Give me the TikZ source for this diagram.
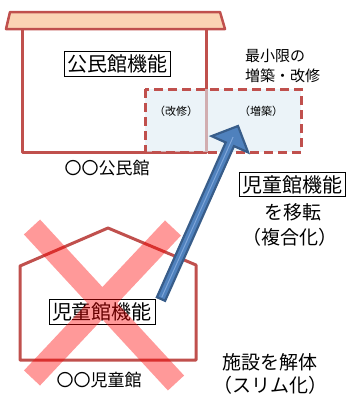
\documentclass[tikz,border=0pt]{standalone}
\usepackage{fontspec}
\newfontfamily\jp{Noto Sans CJK JP}
\usetikzlibrary{calc}
\definecolor{wallred}{HTML}{C0504D}
\definecolor{roofpeach}{HTML}{FBD4B4}
\definecolor{areablue}{HTML}{DDEBF3}
\definecolor{arrowdark}{HTML}{385D8A}
\definecolor{arrowfill}{HTML}{4F81BD}
\definecolor{arrowlight}{HTML}{7FA6DA}
\tikzset{
  wall/.style={draw=wallred, line width=3pt, line join=round},
  labelbox/.style={draw=black, line width=0.8pt, fill=white, inner xsep=3pt, inner ysep=3pt, font=\jp\fontsize{20}{22}\selectfont},
  caption/.style={font=\jp\fontsize{17}{19}\selectfont, inner sep=0pt},
  note/.style={font=\jp\fontsize{19}{22}\selectfont, inner sep=0pt},
  small/.style={font=\jp\fontsize{15}{18}\selectfont, inner sep=0pt, anchor=west},
  tiny/.style={font=\jp\fontsize{11}{13}\selectfont, inner sep=0pt},
}
\begin{document}
\begin{tikzpicture}[x=1pt,y=-1pt]
\useasboundingbox (0,0) rectangle (348,394);
% public hall
\draw[wall] (22,29) -- (22,152) -- (206,152) -- (206,29);
\draw[wall, line width=2.5pt, fill=roofpeach] (10,12) -- (220,12) -- (225,29) -- (6,29) -- cycle;
\node[labelbox] (pubfn) at (117.5,64) {公民館機能};
\node[caption] (pubname) at (107,168) {〇〇公民館};
% extension area
\draw[draw=wallred, line width=3pt, dash pattern=on 9pt off 5pt, fill=areablue, fill opacity=0.6] (145,89) rectangle (301,152);
\node[tiny] (kaishu) at (176,111) {（改修）};
\node[tiny] (zouchiku) at (261,111) {（増築）};
\node[small] (min1) at (245,56) {最小限の};
\node[small] (min2) at (245,76) {増築・改修};
% right texts
\node[labelbox] (moved) at (292.5,184.5) {児童館機能};
\node[note] (iten) at (293,212) {を移転};
\node[note] (fukugo) at (290,237) {（複合化）};
% children's hall
\draw[wall] (20,360) -- (20,266) -- (108,228) -- (196,265) -- (196,360) -- cycle;
\node[labelbox] (chfn) at (102,312) {児童館機能};
\node[caption] (chname) at (99,380) {〇〇児童館};
\node[note] (kaitai) at (270,362) {施設を解体};
\node[note] (slim) at (270,385) {（スリム化）};
% cross
\draw[draw=red, draw opacity=0.4, line width=22pt] (32,227) -- (176,383) (173,228) -- (32,378);
% arrow
\coordinate (at) at (161,299);
\coordinate (ah) at (238,126);
\coordinate (neck) at ($(ah)!20pt!(at)$);
\draw[draw=arrowdark, fill=arrowfill, line width=2.2pt, line join=miter]
  ($(at)!4.5pt!90:(ah)$) -- ($(neck)!4.5pt!90:(ah)$) -- ($(neck)!20pt!90:(ah)$) -- (ah)
  -- ($(neck)!20pt!-90:(ah)$) -- ($(neck)!4.5pt!-90:(ah)$) -- ($(at)!4.5pt!-90:(ah)$) -- cycle;
\draw[arrowlight, line width=1pt] ($(at)!2pt!(ah)$) -- ($(neck)!8pt!(ah)$);
\end{tikzpicture}
\end{document}
